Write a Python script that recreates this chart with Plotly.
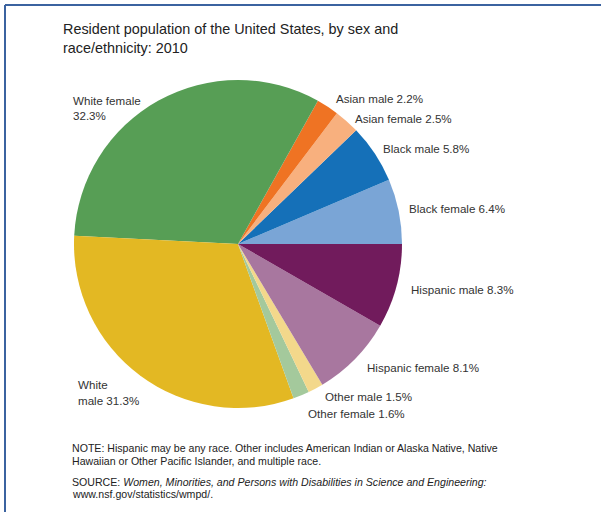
import plotly.graph_objects as go

W, H = 601, 512

categories = ["Black female", "Black male", "Asian female", "Asian male",
              "White female", "White male", "Other female", "Other male",
              "Hispanic female", "Hispanic male"]
shares = [6.4, 5.8, 2.5, 2.2, 32.3, 31.3, 1.6, 1.5, 8.1, 8.3]
colors = ["#7aa5d6", "#1570b8", "#f8b07e", "#ef7323", "#579e55",
          "#e3b823", "#a4c99c", "#f3d88b", "#a8779f", "#711b5c"]

# label lines and pixel anchors (left x, center y of each line)
label_layout = {
    "White female": (["White female", "{v}%"], 73, [100, 115]),
    "Asian male": (["Asian male {v}%"], 336, [98]),
    "Asian female": (["Asian female {v}%"], 355, [118]),
    "Black male": (["Black male {v}%"], 383, [148]),
    "Black female": (["Black female {v}%"], 409, [208]),
    "Hispanic male": (["Hispanic male {v}%"], 411, [289]),
    "Hispanic female": (["Hispanic female {v}%"], 367, [367]),
    "Other male": (["Other male {v}%"], 325, [396]),
    "Other female": (["Other female {v}%"], 308, [413]),
    "White male": (["White", "male {v}%"], 78, [384, 400]),
}

title_lines = ["Resident population of the United States, by sex and",
               "race/ethnicity: 2010"]
note_lines = ["NOTE: Hispanic may be any race. Other includes American Indian or Alaska Native, Native",
              "Hawaiian or Other Pacific Islander, and multiple race.",
              "SOURCE: <i>Women, Minorities, and Persons with Disabilities in Science and Engineering:</i>",
              "www.nsf.gov/statistics/wmpd/."]

FONT = "Liberation Sans, Arial, sans-serif"

def px(x):
    return x / W

def py(y):
    return 1 - y / H

# pie box in pixels
cx, cy, r = 238, 244, 164

# plotly places the first slice clockwise of `rotation` when counterclockwise;
# shift so the first slice begins at 3 o'clock and runs upward
rot = 90 - 360 * shares[0] / sum(shares)

fig = go.Figure(go.Pie(
    labels=categories, values=shares, sort=False,
    direction="counterclockwise", rotation=rot,
    marker=dict(colors=colors, line=dict(width=0)),
    textinfo="none", hoverinfo="label+percent",
    domain=dict(x=[px(cx - r), px(cx + r)], y=[py(cy + r), py(cy - r)]),
    showlegend=False,
))

annotations = []

def add_line(text, x, y, size, color):
    annotations.append(dict(
        text=text, x=px(x), y=py(y), xref="paper", yref="paper",
        xanchor="left", yanchor="middle", align="left", showarrow=False,
        xshift=-2,
        font=dict(family=FONT, size=size, color=color),
    ))

for cat, val in zip(categories, shares):
    lines, lx, lys = label_layout[cat]
    for ln, ly in zip(lines, lys):
        add_line(ln.format(v=val), lx, ly, 11.6, "#333333")

for ln, ly in zip(title_lines, [29, 48]):
    add_line(ln, 63, ly, 14.4, "#222222")

for ln, ly in zip(note_lines, [448, 461, 482, 494]):
    add_line(ln, 72, ly, 10.6, "#222222")

shapes = [
    dict(type="line", xref="paper", yref="paper", x0=px(5), x1=1.0, y0=py(5), y1=py(5),
         line=dict(color="#3b63a0", width=2)),
    dict(type="line", xref="paper", yref="paper", x0=px(5), x1=px(5), y0=py(5), y1=0,
         line=dict(color="#3b63a0", width=2)),
]

fig.update_layout(
    width=W, height=H, margin=dict(l=0, r=0, t=0, b=0),
    paper_bgcolor="white", plot_bgcolor="white",
    annotations=annotations, shapes=shapes,
)

fig.write_html("out.html")
